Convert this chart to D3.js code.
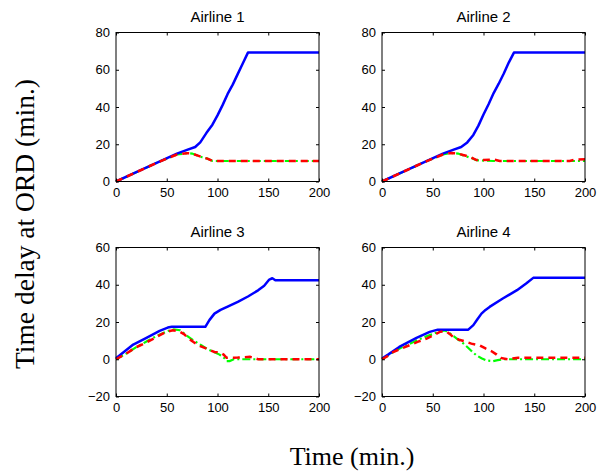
<!DOCTYPE html>
<html><head><meta charset="utf-8">
<script src="https://cdn.jsdelivr.net/npm/d3@7"></script>
<style>body{margin:0;background:#fff}svg{display:block}</style>
</head><body>
<script>
// ---- data ----
const titles = ["Airline 1","Airline 2","Airline 3","Airline 4"];
const xTicks = [0,50,100,150,200];
const yTicksTop = [0,20,40,60,80];
const yTicksBottom = [-20,0,20,40,60];

const blue1 = [[0,0],[20,5],[40,10],[60,15],[70,17],[78,18.5],[83,21],[89,26],[95,30.5],[100,35.5],[105,41],[110,47],[115,52],[120,57.8],[125,63.5],[130,69.2],[200,69.2]];
const red1  = [[0,0],[20,5],[40,10],[60,14.5],[70,15.2],[75,15],[80,14],[85,13],[90,12.3],[95,11],[100,11],[200,11]];
const green1= [[0,0],[20,5],[40,10],[60,14.5],[70,15.2],[75,15],[80,14],[85,13],[90,12.3],[95,11],[100,11],[200,11]];

const blue2 = [[0,0],[20,5],[40,10],[60,15],[70,17],[78,18.5],[84,21],[90,25],[95,30],[100,36],[105,41.5],[110,47.5],[115,52.5],[120,58],[125,64],[130,69.2],[200,69.2]];
const red2  = [[0,0],[20,5],[40,10],[60,14.5],[68,15.3],[75,15],[80,14.2],[87,13.2],[93,11.5],[100,11.5],[110,11.8],[116,11],[185,11],[190,11.8],[200,12]];
const green2= [[0,0],[20,5],[40,10],[60,14.5],[68,15.3],[75,15],[80,14],[87,12.8],[93,11.5],[100,11.2],[110,11],[200,11]];

const blue3 = [[0,0.5],[17,7.9],[30,11.5],[43,15.2],[51,17],[55,17.4],[88,17.4],[92,21],[97,24.5],[103,26.5],[110,28.3],[120,30.8],[130,33.7],[140,37],[146,39.5],[151,42.8],[154,43.5],[157,42.4],[200,42.4]];
const red3  = [[0,0],[10,3],[20,6.5],[30,9],[40,12],[50,14.8],[56,15.6],[62,15],[67,13.5],[72,11],[77,9],[83,7],[88,6],[93,4.8],[97,3.9],[102,3.6],[106,2.5],[109,0.8],[120,0.9],[132,1.3],[140,0],[200,0]];
const green3= [[0,0],[10,3],[20,6.5],[30,9.5],[40,12.5],[50,15],[57,16],[63,15.6],[70,12.5],[76,10.2],[84,7.5],[90,5.5],[96,4],[102,2.5],[107,0.5],[109,-1],[112,-1],[116,0],[200,0]];

const blue4 = [[0,0.4],[6,2.5],[17,6.6],[34,11.5],[47,14.7],[55,15.9],[85,15.9],[90,18.3],[94,21.5],[98,24.5],[102,26.5],[106,28.1],[119,32.6],[133,37.1],[142,40.7],[149,43.7],[200,43.7]];
const red4  = [[0,0],[5,1.5],[11,3.9],[20,6],[27,7.5],[35,9.3],[44,11.1],[50,12.7],[57,14.7],[63,15],[67,13.5],[71,11.5],[76,10.5],[81,9.7],[88,8.4],[96,7.5],[102,5.8],[108,4.3],[113,2.5],[117,0.7],[124,0],[134,0.8],[200,0.8]];
const green4= [[0,0],[10,3.5],[20,6.5],[30,9],[40,11.5],[50,13.5],[57,15],[62,15.5],[68,13.5],[74,11],[79,9],[84,6.6],[89,4],[93,2.1],[98,0.5],[103,-0.7],[109.5,-1],[114,-0.5],[119,0],[200,0]];

const panels = [
  {title:titles[0], blue:blue1, red:red1, green:green1, yDomain:[0,80], yTicks:yTicksTop},
  {title:titles[1], blue:blue2, red:red2, green:green2, yDomain:[0,80], yTicks:yTicksTop},
  {title:titles[2], blue:blue3, red:red3, green:green3, yDomain:[-20,60], yTicks:yTicksBottom},
  {title:titles[3], blue:blue4, red:red4, green:green4, yDomain:[-20,60], yTicks:yTicksBottom}
];

// ---- layout ----
const W=601, H=472;
const lefts=[116,382], tops=[32.5,247.5], pw=203, ph=149;
const svg=d3.select("body").append("svg").attr("width",W).attr("height",H);
const fmt = d => d<0 ? "\u2212"+Math.abs(d) : String(d);

panels.forEach((p,i)=>{
  const x0=lefts[i%2], y0=tops[Math.floor(i/2)];
  const g=svg.append("g").attr("transform",`translate(${x0},${y0})`);
  const x=d3.scaleLinear().domain([0,200]).range([0,pw]);
  const y=d3.scaleLinear().domain(p.yDomain).range([ph,0]);
  const line=d3.line().x(d=>x(d[0])).y(d=>y(d[1]));
  const plot=g.append("g");
  plot.append("path").datum(p.green).attr("d",line).attr("fill","none")
    .attr("stroke","#00ff00").attr("stroke-width",2.2).attr("stroke-dasharray","8,3,2,3");
  plot.append("path").datum(p.blue).attr("d",line).attr("fill","none")
    .attr("stroke","#0000ff").attr("stroke-width",2.5).attr("stroke-linejoin","round");
  plot.append("path").datum(p.red).attr("d",line).attr("fill","none")
    .attr("stroke","#ff0000").attr("stroke-width",2.5).attr("stroke-dasharray","7,5");

  const fs="13px";
  const ax=g.append("g").attr("transform",`translate(0,${ph})`)
    .call(d3.axisBottom(x).tickValues(xTicks).tickSize(-3).tickPadding(6).tickFormat(fmt));
  const axT=g.append("g").call(d3.axisTop(x).tickValues(xTicks).tickSize(-3).tickFormat(""));
  const ay=g.append("g").call(d3.axisLeft(y).tickValues(p.yTicks).tickSize(-3).tickPadding(6).tickFormat(fmt));
  const ayR=g.append("g").attr("transform",`translate(${pw},0)`)
    .call(d3.axisRight(y).tickValues(p.yTicks).tickSize(-3).tickFormat(""));
  [ax,axT,ay,ayR].forEach(a=>{
    a.select(".domain").remove();
    a.selectAll("line").attr("stroke","#000");
    a.selectAll("text").attr("font-family","Liberation Sans, Arial, sans-serif").attr("font-size",fs).attr("fill","#000");
  });
  g.append("rect").attr("width",pw).attr("height",ph).attr("fill","none").attr("stroke","#000").attr("stroke-width",1);
  g.append("text").attr("x",pw/2).attr("y",-11).attr("text-anchor","middle")
    .attr("font-family","Liberation Sans, Arial, sans-serif").attr("font-size","15px").text(p.title);
});

svg.append("text").attr("x",352).attr("y",465).attr("text-anchor","middle")
  .attr("font-family","Liberation Serif, Times New Roman, serif").attr("font-size","26px").text("Time (min.)");
svg.append("text").attr("transform","translate(34,224) rotate(-90)").attr("text-anchor","middle")
  .attr("font-family","Liberation Serif, Times New Roman, serif").attr("font-size","27.5px").text("Time delay at ORD (min.)");
</script>
</body></html>
